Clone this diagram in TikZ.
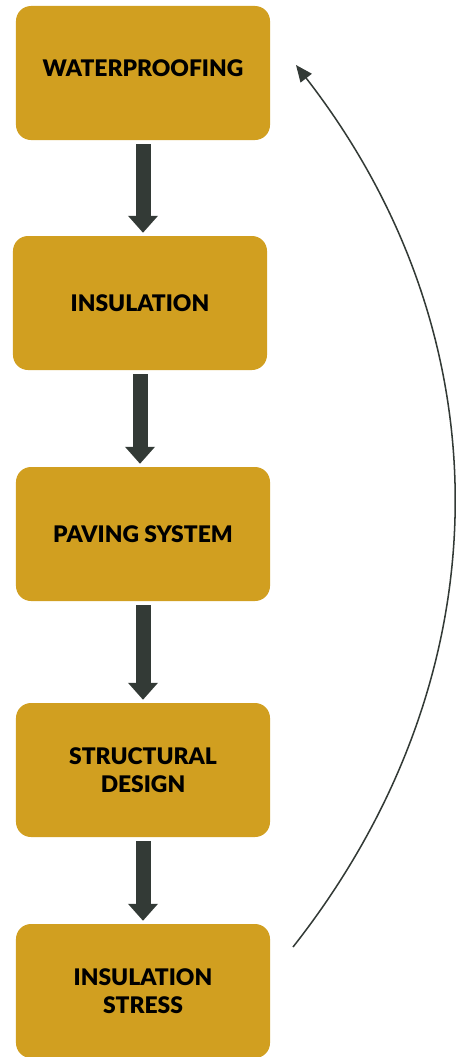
\documentclass[tikz,border=0pt]{standalone}
\usepackage{fontspec}
\setmainfont{Lato}[BoldFont={Lato Black}]
\usetikzlibrary{arrows.meta, positioning}
\definecolor{boxgold}{HTML}{D19F20}
\definecolor{arrowgray}{HTML}{333A36}
\tikzset{%
	stage box/.style={
		rectangle,
		rounded corners=0.45cm,
		fill=boxgold,
		minimum width=7.62cm,
		minimum height=4.02cm,
		align=center,
		font=\fontsize{19.5}{23.5}\selectfont\bfseries
	},
	flow arrow/.style={
		draw=arrowgray,
		line width=0.45cm,
		-{Triangle[length=0.51cm, width=0.87cm]},
		shorten <=0.12cm,
		shorten >=0.09cm
	},
	loop arrow/.style={
		draw=arrowgray,
		line width=1.3pt,
		-{Triangle[length=0.5cm, width=0.42cm]}
	},
}

\begin{document}
\begin{tikzpicture}[x=0.03cm, y=-0.03cm]
			\useasboundingbox (0,0) rectangle (462,1057);
			
			% Draw the stage boxes
			\node[stage box] (waterproofing) at (143,73) {\raisebox{8pt}{WATERPROOFING}};
			\node[stage box] (insulation) at (140,303) {INSULATION};
			\node[stage box] (paving) at (143,534) {PAVING SYSTEM};
			\node[stage box] (structural) at (143,770) {STRUCTURAL\\DESIGN};
			\node[stage box] (stress) at (143,991) {INSULATION\\STRESS};
			
			% Draw the thick arrows between them
			\draw[flow arrow] (waterproofing.south) -- (waterproofing.south |- insulation.north);
			\draw[flow arrow] (insulation.south) -- (insulation.south |- paving.north);
			\draw[flow arrow] (paving.south) -- (structural.north);
			\draw[flow arrow] (structural.south) -- (stress.north);
			
			% Draw the arrow back to the top
			\coordinate (loopstart) at (293,947);
			\coordinate (loopend) at (296,65);
			\draw[loop arrow] (loopstart) to[bend right=38] (loopend);
			
		\end{tikzpicture}
\end{document}
